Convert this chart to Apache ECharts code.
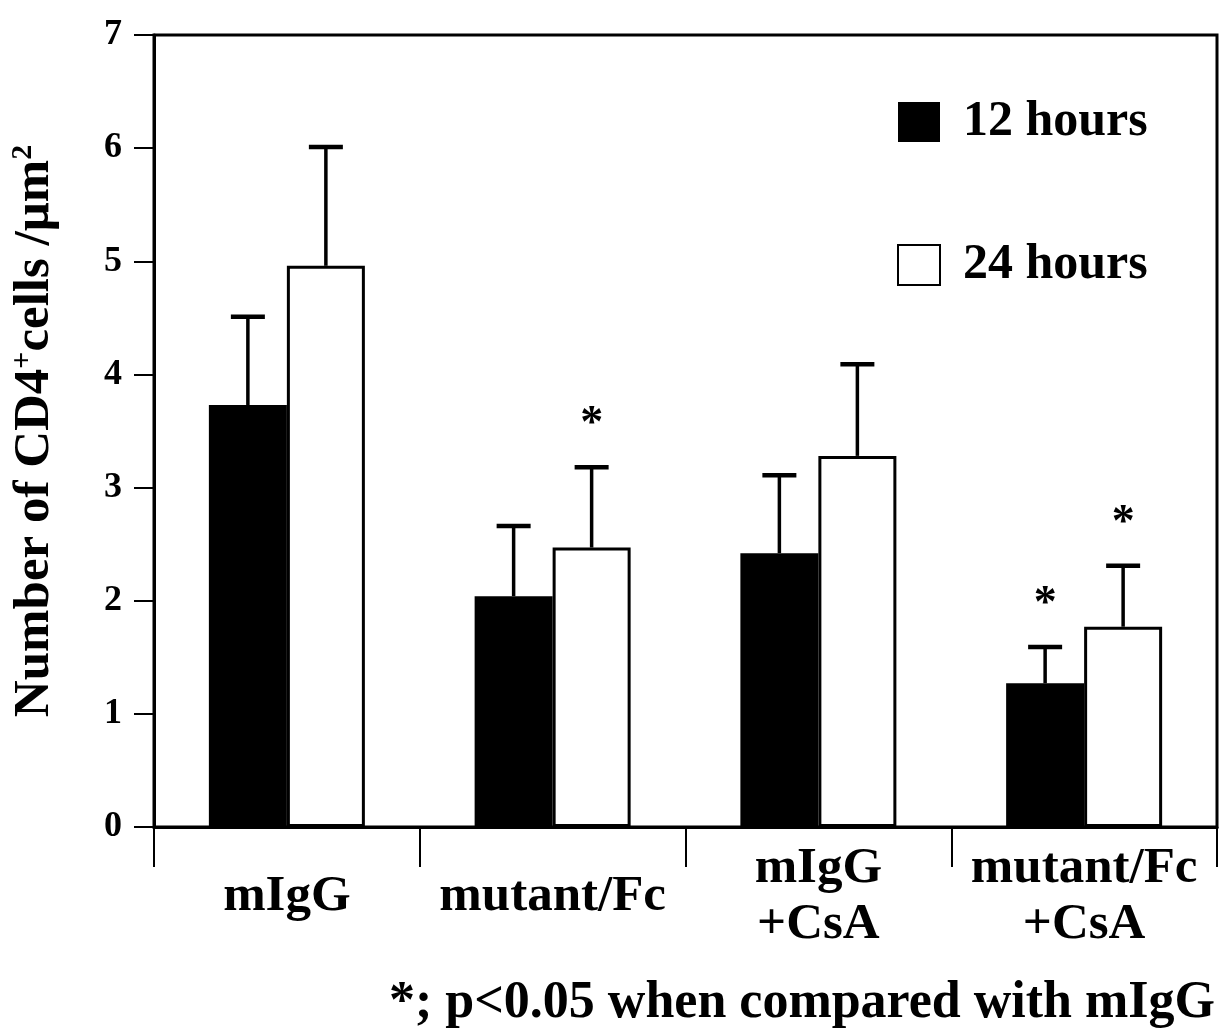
<!DOCTYPE html>
<html>
<head>
<meta charset="utf-8">
<script src="https://cdn.jsdelivr.net/npm/echarts@6/dist/echarts.min.js"></script>
<style>
  html, body { margin: 0; padding: 0; background: #fff; }
  #chart { width: 1225px; height: 1034px; }
</style>
</head>
<body>
<div id="chart"></div>
<script>
// ---- data ----
var categories = ['mIgG', 'mutant/Fc', 'mIgG\n+CsA', 'mutant/Fc\n+CsA'];
var seriesNames = ['12 hours', '24 hours'];
var h12 = [3.73, 2.04, 2.42, 1.27];
var h12Err = [0.78, 0.62, 0.69, 0.32];
var h24 = [4.96, 2.47, 3.28, 1.77];
var h24Err = [1.05, 0.71, 0.81, 0.54];
var sig12 = [0, 0, 0, 1];
var sig24 = [0, 1, 0, 1];
var yTicks = [0, 1, 2, 3, 4, 5, 6, 7];
var footnote = '*; p<0.05 when compared with mIgG';

// ---- style constants ----
var FONT = '"Liberation Serif", "Times New Roman", serif';
var BAR_W = 78;

function errSeries(idx, vals, errs, sig) {
  var data = vals.map(function (v, i) { return [i, v, v + errs[i], sig[i]]; });
  return {
    type: 'custom',
    z: 5,
    silent: true,
    data: data,
    renderItem: function (params, api) {
      var ci = api.value(0);
      var base = api.coord([ci, api.value(1)]);
      var top = api.coord([ci, api.value(2)]);
      var off = (idx === 0 ? -1 : 1) * BAR_W / 2;
      var x = base[0] + off;
      var children = [
        { type: 'line', shape: { x1: x, y1: base[1], x2: x, y2: top[1] },
          style: { stroke: '#000', lineWidth: 3.5 } },
        { type: 'line', shape: { x1: x - 17, y1: top[1], x2: x + 17, y2: top[1] },
          style: { stroke: '#000', lineWidth: 4.5 } }
      ];
      if (api.value(3)) {
        children.push({ type: 'text', x: x, y: top[1] - 42,
          style: { text: '*', font: 'bold 46px ' + FONT, fill: '#000',
                   align: 'center', verticalAlign: 'middle' } });
      }
      return { type: 'group', children: children };
    }
  };
}

var chart = echarts.init(document.getElementById('chart'));
chart.setOption({
  backgroundColor: '#fff',
  animation: false,
  grid: { left: 153, right: 8, top: 35, bottom: 207, show: true,
          borderColor: '#000', borderWidth: 3, backgroundColor: 'transparent' },
  legend: {
    data: seriesNames,
    orient: 'vertical',
    left: 892, top: 92,
    icon: 'rect',
    itemWidth: 42, itemHeight: 40, itemGap: 93,
    textStyle: { fontFamily: FONT, fontWeight: 'bold', fontSize: 50, color: '#000',
                 padding: [0, 0, 0, 18] }
  },
  xAxis: {
    type: 'category',
    data: categories,
    axisLine: { lineStyle: { color: '#000', width: 3 } },
    axisTick: { show: true, inside: false, length: 40, lineStyle: { color: '#000', width: 2 } },
    axisLabel: { fontFamily: FONT, fontWeight: 'bold', fontSize: 51, color: '#000',
                 margin: 70, verticalAlign: 'middle', lineHeight: 56, interval: 0 },
    splitLine: { show: false }
  },
  yAxis: {
    type: 'value',
    min: yTicks[0], max: yTicks[yTicks.length - 1], interval: 1,
    name: 'Number of CD4{sup|+}cells /\u03bcm{sup|2}',
    nameLocation: 'middle',
    nameGap: 92,
    nameTextStyle: { fontFamily: FONT, fontWeight: 'bold', fontSize: 51, color: '#000',
      rich: { sup: { fontFamily: FONT, fontWeight: 'bold', fontSize: 30, color: '#000',
                     verticalAlign: 'top', padding: [0, 0, 24, 0] } } },
    axisLine: { show: true, lineStyle: { color: '#000', width: 3 } },
    axisTick: { show: true, inside: false, length: 20, lineStyle: { color: '#000', width: 2 } },
    axisLabel: { fontFamily: FONT, fontWeight: 'bold', fontSize: 36, color: '#000', margin: 32 },
    splitLine: { show: false }
  },
  series: [
    { name: seriesNames[0], type: 'bar', data: h12, barWidth: BAR_W, barGap: '0%',
      itemStyle: { color: '#000', borderColor: '#000', borderWidth: 0 } },
    { name: seriesNames[1], type: 'bar', data: h24, barWidth: BAR_W, barGap: '0%',
      itemStyle: { color: '#fff', borderColor: '#000', borderWidth: 3 } },
    errSeries(0, h12, h12Err, sig12),
    errSeries(1, h24, h24Err, sig24)
  ],
  graphic: [
    { type: 'text', x: 1215, y: 1004,
      style: { text: footnote, font: 'bold 52px ' + FONT, fill: '#000',
               align: 'right', verticalAlign: 'middle' } }
  ]
});
</script>
</body>
</html>
